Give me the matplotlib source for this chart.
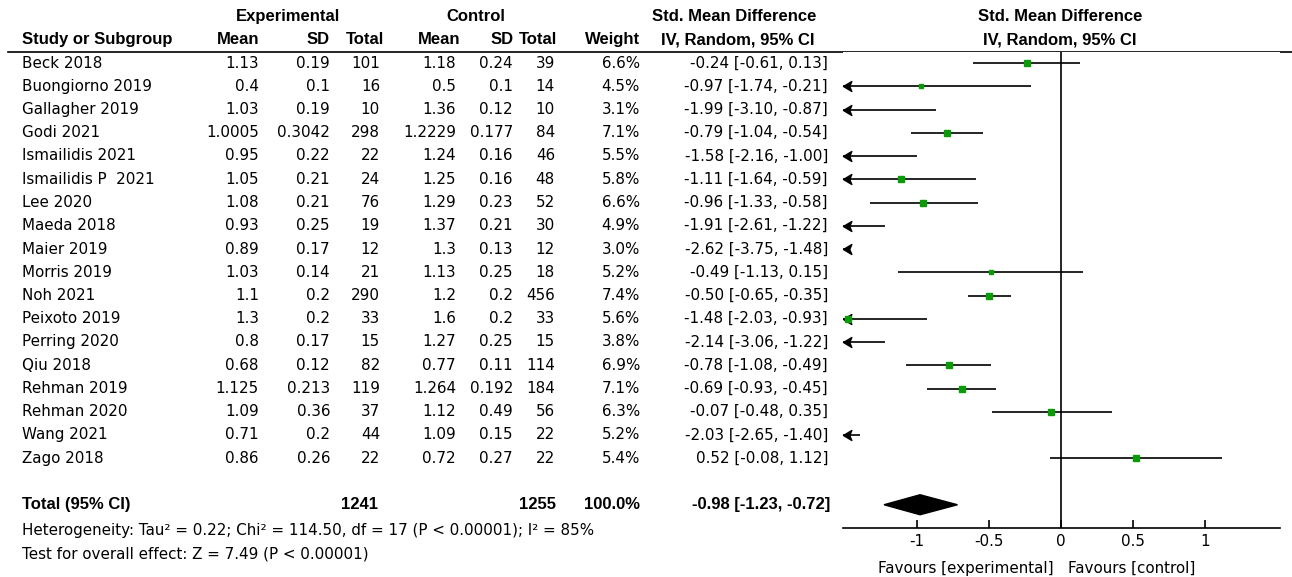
import matplotlib.pyplot as plt
from matplotlib.path import Path
from matplotlib.patches import Polygon

plt.rcParams['axes.unicode_minus'] = False

studies = ['Beck 2018', 'Buongiorno 2019', 'Gallagher 2019', 'Godi 2021', 'Ismailidis 2021',
           'Ismailidis P  2021', 'Lee 2020', 'Maeda 2018', 'Maier 2019', 'Morris 2019', 'Noh 2021',
           'Peixoto 2019', 'Perring 2020', 'Qiu 2018', 'Rehman 2019', 'Rehman 2020', 'Wang 2021',
           'Zago 2018']
exp_mean = ['1.13', '0.4', '1.03', '1.0005', '0.95', '1.05', '1.08', '0.93', '0.89', '1.03',
            '1.1', '1.3', '0.8', '0.68', '1.125', '1.09', '0.71', '0.86']
exp_sd = ['0.19', '0.1', '0.19', '0.3042', '0.22', '0.21', '0.21', '0.25', '0.17', '0.14',
          '0.2', '0.2', '0.17', '0.12', '0.213', '0.36', '0.2', '0.26']
exp_n = [101, 16, 10, 298, 22, 24, 76, 19, 12, 21, 290, 33, 15, 82, 119, 37, 44, 22]
ctl_mean = ['1.18', '0.5', '1.36', '1.2229', '1.24', '1.25', '1.29', '1.37', '1.3', '1.13',
            '1.2', '1.6', '1.27', '0.77', '1.264', '1.12', '1.09', '0.72']
ctl_sd = ['0.24', '0.1', '0.12', '0.177', '0.16', '0.16', '0.23', '0.21', '0.13', '0.25',
          '0.2', '0.2', '0.25', '0.11', '0.192', '0.49', '0.15', '0.27']
ctl_n = [39, 14, 10, 84, 46, 48, 52, 30, 12, 18, 456, 33, 15, 114, 184, 56, 22, 22]
weight = [6.6, 4.5, 3.1, 7.1, 5.5, 5.8, 6.6, 4.9, 3.0, 5.2, 7.4, 5.6, 3.8, 6.9, 7.1, 6.3, 5.2, 5.4]
smd = [-0.24, -0.97, -1.99, -0.79, -1.58, -1.11, -0.96, -1.91, -2.62, -0.49, -0.50, -1.48,
       -2.14, -0.78, -0.69, -0.07, -2.03, 0.52]
ci_lo = [-0.61, -1.74, -3.10, -1.04, -2.16, -1.64, -1.33, -2.61, -3.75, -1.13, -0.65, -2.03,
         -3.06, -1.08, -0.93, -0.48, -2.65, -0.08]
ci_hi = [0.13, -0.21, -0.87, -0.54, -1.00, -0.59, -0.58, -1.22, -1.48, 0.15, -0.35, -0.93,
         -1.22, -0.49, -0.45, 0.35, -1.40, 1.12]
total_smd, total_lo, total_hi = -0.98, -1.23, -0.72
heterogeneity = 'Heterogeneity: Tau\u00b2 = 0.22; Chi\u00b2 = 114.50, df = 17 (P < 0.00001); I\u00b2 = 85%'
overall = 'Test for overall effect: Z = 7.49 (P < 0.00001)'
xticks = [-1, -0.5, 0, 0.5, 1]
xtick_labels = ['-1', '-0.5', '0', '0.5', '1']

W, H = 1292, 577
ROW0, ROWH = 63, 23.25          # pixel y of the first study row, row pitch
n = len(studies)
total_row = n + 1
axis_row = n + 2

FS = 10.9
body = dict(family='DejaVu Sans', fontsize=FS, va='center')
bold = dict(family='Liberation Sans', fontsize=12, fontweight='bold', va='center')

fig = plt.figure(figsize=(W / 100, H / 100), dpi=100)

# table part: x in pixels, y in row units
tab = fig.add_axes([0, 0, 1, 1])
tab.set_xlim(0, W)
tab.set_ylim((H - ROW0) / ROWH, -ROW0 / ROWH)
tab.axis('off')

tab.text(288, -2, 'Experimental', ha='center', **bold)
tab.text(476, -2, 'Control', ha='center', **bold)
tab.text(734, -2, 'Std. Mean Difference', ha='center', **bold)
tab.text(1060, -2, 'Std. Mean Difference', ha='center', **bold)
tab.text(22, -1, 'Study or Subgroup', ha='left', **bold)
for x, s in [(259, 'Mean'), (330, 'SD'), (384, 'Total'), (460, 'Mean'), (514, 'SD'),
             (557, 'Total'), (640, 'Weight')]:
    tab.text(x, -1, s, ha='right', **bold)
tab.text(738, -1, 'IV, Random, 95% CI', ha='center', **bold)
tab.text(1060, -1, 'IV, Random, 95% CI', ha='center', **bold)
tab.plot([8, W], [-(ROW0 - 52) / ROWH] * 2, color='black', lw=1.2)

for i in range(n):
    tab.text(22, i, studies[i], ha='left', **body)
    tab.text(259, i, exp_mean[i], ha='right', **body)
    tab.text(330, i, exp_sd[i], ha='right', **body)
    tab.text(380, i, str(exp_n[i]), ha='right', **body)
    tab.text(456, i, ctl_mean[i], ha='right', **body)
    tab.text(513, i, ctl_sd[i], ha='right', **body)
    tab.text(555, i, str(ctl_n[i]), ha='right', **body)
    tab.text(640, i, f'{weight[i]:.1f}%', ha='right', **body)
    tab.text(828, i, f'{smd[i]:.2f} [{ci_lo[i]:.2f}, {ci_hi[i]:.2f}]', ha='right', **body)

tab.text(22, total_row, 'Total (95% CI)', ha='left', **bold)
tab.text(378, total_row, str(sum(exp_n)), ha='right', **bold)
tab.text(556, total_row, str(sum(ctl_n)), ha='right', **bold)
tab.text(640, total_row, f'{sum(weight):.1f}%', ha='right', **bold)
tab.text(830, total_row, f'{total_smd:.2f} [{total_lo:.2f}, {total_hi:.2f}]', ha='right', **bold)
tab.text(22, total_row + 1.1, heterogeneity, ha='left', **body)
tab.text(22, total_row + 2.1, overall, ha='left', **body)

# forest plot
ax = fig.add_axes([843 / W, (H - 528) / H, (1280 - 843) / W, (528 - 52) / H])
ax.set_xlim(-1.515, 1.52)
ax.set_ylim(axis_row, -(ROW0 - 52) / ROWH)
for s in ['top', 'left', 'right']:
    ax.spines[s].set_visible(False)
ax.spines['bottom'].set_linewidth(1.2)
ax.set_yticks([])
ax.set_xticks(xticks)
ax.set_xticklabels(xtick_labels, family='DejaVu Sans', fontsize=FS)
ax.tick_params(axis='x', direction='in', length=6, width=1.2, pad=4)
ax.axvline(0, color='black', lw=1.2)

xmin = ax.get_xlim()[0]
head = Path([(0, 0), (1, 0.6), (0.75, 0), (1, -0.6), (0, 0)],
            [Path.MOVETO, Path.LINETO, Path.LINETO, Path.LINETO, Path.CLOSEPOLY])
for i in range(n):
    lo = max(ci_lo[i], xmin)
    ax.plot([lo, ci_hi[i]], [i, i], color='black', lw=1.2, solid_capstyle='butt')
    if ci_lo[i] < xmin:
        ax.plot(xmin, i, marker=head, ms=12, color='black', clip_on=False)
    ax.plot(smd[i], i, marker='s', ms=2 + 0.3 * weight[i], color='#0a9a0a', mec='#0a9a0a')

diamond = Polygon([(total_lo, total_row), (total_smd, total_row - 0.43),
                   (total_hi, total_row), (total_smd, total_row + 0.43)],
                  closed=True, color='black')
ax.add_patch(diamond)

ax.text(-0.05, -0.085, 'Favours [experimental]', transform=ax.get_xaxis_transform(),
        ha='right', va='center', family='DejaVu Sans', fontsize=FS)
ax.text(0.05, -0.085, 'Favours [control]', transform=ax.get_xaxis_transform(),
        ha='left', va='center', family='DejaVu Sans', fontsize=FS)

fig.savefig('out.png', dpi=100)
